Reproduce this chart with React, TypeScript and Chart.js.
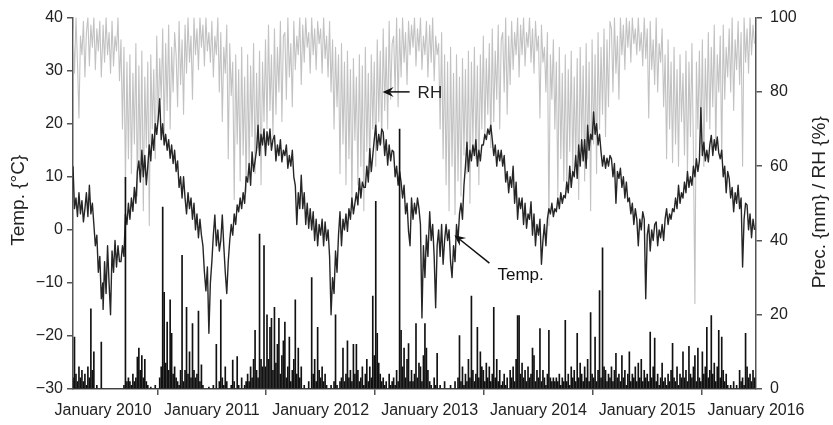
import React, { useEffect, useRef } from 'react';
import { Chart, registerables } from 'chart.js';

Chart.register(...registerables);

// ---------- data (5-day sampling; first segment starts 22 Sep 2009, others on 1 Jan) ----------
const STEP_DAYS = 5;
const segmentStarts = ['2009-09-22', '2010-01-01', '2011-01-01', '2012-01-01', '2013-01-01', '2014-01-01', '2015-01-01'];
const axisEnd = '2016-01-01';

const xTickDates = ['2010-01-01', '2011-01-01', '2012-01-01', '2013-01-01', '2014-01-01', '2015-01-01', '2016-01-01'];
const xTickLabels = ['January 2010', 'January 2011', 'January 2012', 'January 2013', 'January 2014', 'January 2015', 'January 2016'];

// Temperature (°C)
const temp2009 = [12, 4, 6, 2.5, 7, 3, 5.5, 1.5, 4, 7, 2.5, 8.4, 3, 5, 1, -3, -1, -8, -5, -13, -10];
const temp2010 = [
  -15, -6, -12, -3, -10, -16, -4, -8, -2, -7, -3, -6, -6, -3, -5, 3, 1, 5,
  2, 6, 3.5, 8, 5, 11, 13, 9, 15, 10, 14, 8.5, 12, 16, 13, 18, 15, 20,
  18, 21, 24.7, 17, 20, 16, 18, 15, 17, 13.5, 16, 12.5, 15, 11, 13, 8, 10, 6, 10,
  6, 3, 7, 4, 6, 2, 5, 0, 3, -1.5, 2, -1, -3, -8, -11.5, -7, -19.5, -10];
const temp2011 = [
  -6, -1, 2.8, -3, 0, -4, -2, 2.8, -3, -8, -12, -6, -2, 1, -1, 3, 1, 4.7,
  3.4, 6, 4, 7, 5, 10, 9, 12.5, 8.4, 14.7, 11, 13, 15, 19.7, 14, 18, 16, 19,
  14, 18.5, 16, 19, 15, 17, 17.8, 13, 16, 14, 17, 12.8, 15, 14, 16, 11.6, 14, 12, 15,
  10, 8.4, 1, 7, 4, 10.3, 4, 7, 1, 5, 0.3, 4, 0, 3.4, -2, 2, -3, 1];
const temp2012 = [
  -1, 2, -3, 1.5, -2, 0, -5, -16, -9, -12, -4, -8, -1, 3.4, -3, 2, 0, 3,
  -0.3, 4, 2, 6, 3, 5, 7, 4.7, 9.7, 6, 9, 8, 8, 12, 9, 15.3, 11, 14,
  17, 19.7, 15, 18, 16, 19, 18.4, 14, 17, 12.2, 16, 13, 15, 14.7, 10, 12, 8.4, 11, 9,
  6, 8.4, 3, 5, -0.3, -3, 6, 2, 5, 3, 6, 4, 1, -16.6, -3, -9, -1, -5];
const temp2013 = [
  3.4, -2, 1, -5, -14.7, -3, 0, -5, 1, -6.5, -2, 1, -2, 0, -6, -9, -3, -6,
  1, -2, 3, 5, 2, 8.4, 12, 16.5, 11, 15, 13, 16, 14, 17, 12, 15, 13, 16,
  16, 18, 17, 19, 18, 19.7, 17, 14, 16, 12, 15, 13, 15, 12, 14, 9, 11, 7, 10,
  8, 12, 5, 9, 2, 6, 4, 6, 1, 5, 0.3, 3, 2, 5.3, -1, 3, -3, 1];
const temp2014 = [
  -1, 2, -6.5, -2, 1, -3, 2, 4, 3, 5, 2.5, 4, 3.4, 6, 4, 7, 5, 6.5,
  6, 9, 7, 12, 8, 11, 10, 14, 9.7, 16, 12, 17, 13, 17, 11.6, 19.7, 15, 18,
  17, 22.2, 18, 20, 16, 18, 14.7, 12, 14, 11.6, 13.5, 12, 14, 13.4, 10, 12.5, 5, 11, 9.7,
  11.6, 8, 10, 6, 9, 5.3, 6, 3, 5, 1, 4, 2, -3, 2, 0, 3.4, 2, -13];
const temp2015 = [
  -1, 1, -4, 0, -2, 1, 1.5, -3, 0, -1.5, 1, -2, 2, 4, 1, 3, 2, 4,
  3.4, 6, 4, 8.4, 5, 7, 6, 9, 7, 11, 8, 10, 8.4, 12, 10, 13.4, 11, 13,
  23, 14, 16.5, 13, 15, 12.8, 16, 17.8, 14, 17, 15, 17.5, 14.5, 13.4, 15, 10, 12, 7, 11,
  9.7, 6, 8, 3.4, 7, 5, 8.4, 4, 6, -7, 2, 5, 4.7, 0, 3, -1.5, 2, 0];

// Relative humidity (%)
const rh2009 = [97, 85, 100, 88, 73, 95, 90, 99, 84, 96, 100, 87, 98, 92, 100, 86, 97, 91, 99, 84, 95];
const rh2010 = [
  98, 88, 100, 90, 96, 85, 99, 87, 95, 91, 100, 83, 94, 70, 92, 55, 88, 62,
  90, 58, 85, 66, 93, 52, 87, 60, 91, 48, 84, 65, 88, 44, 90, 70, 86, 62,
  95, 72, 89, 78, 97, 68, 93, 75, 98, 70, 92, 80, 96, 90, 76, 99, 82, 94, 74,
  98, 85, 100, 88, 95, 78, 100, 90, 97, 86, 100, 92, 98, 87, 100, 91, 96, 88];
const rh2011 = [
  99, 84, 95, 90, 100, 80, 96, 72, 92, 85, 98, 62, 93, 79, 88, 51, 90, 66,
  86, 56, 92, 63, 84, 53, 90, 60, 87, 68, 93, 58, 85, 65, 91, 55, 88, 72,
  94, 70, 98, 75, 90, 68, 97, 74, 92, 80, 99, 72, 95, 96, 78, 100, 84, 93, 76,
  99, 86, 95, 90, 100, 82, 98, 88, 100, 92, 96, 85, 100, 90, 97, 86, 99, 93];
const rh2012 = [
  97, 85, 100, 89, 95, 84, 99, 80, 94, 70, 92, 76, 90, 58, 93, 66, 88, 55,
  91, 62, 86, 50, 89, 67, 84, 55, 90, 60, 87, 48, 92, 64, 85, 58, 90, 70,
  88, 60, 94, 72, 91, 66, 97, 75, 92, 70, 99, 78, 93, 95, 80, 100, 76, 97, 84,
  100, 88, 96, 82, 99, 90, 98, 92, 100, 87, 97, 91, 100, 86, 95, 90, 99, 84];
const rh2013 = [
  98, 88, 100, 83, 95, 90, 93, 70, 96, 62, 90, 55, 88, 48, 92, 60, 85, 47,
  90, 56, 84, 52, 89, 63, 86, 58, 91, 50, 88, 66, 92, 62, 87, 55, 90, 70,
  95, 68, 89, 74, 93, 65, 97, 72, 91, 78, 98, 70, 94, 96, 80, 100, 74, 95, 82,
  99, 86, 96, 90, 100, 84, 98, 90, 100, 87, 96, 92, 100, 88, 97, 85, 99, 91];
const rh2014 = [
  95, 73, 98, 88, 92, 80, 96, 44, 90, 78, 94, 70, 88, 52, 92, 62, 85, 56,
  90, 53, 86, 64, 91, 58, 84, 60, 89, 51, 92, 66, 87, 56, 93, 62, 88, 48,
  94, 66, 90, 58, 96, 70, 92, 74, 97, 68, 94, 76, 99, 97, 80, 100, 85, 95, 78,
  100, 90, 98, 86, 100, 92, 99, 88, 100, 93, 97, 90, 100, 91, 96, 87, 100, 89];
const rh2015 = [
  97, 73, 99, 86, 94, 82, 100, 80, 93, 88, 97, 76, 90, 62, 94, 70, 88, 61,
  92, 66, 86, 60, 90, 72, 85, 63, 91, 58, 88, 68, 93, 64, 23, 88, 70, 91,
  66, 94, 60, 89, 72, 96, 70, 92, 76, 98, 65, 90, 80, 95, 62, 98, 78, 92, 84,
  97, 80, 100, 75, 94, 86, 99, 82, 96, 60, 100, 88, 97, 85, 100, 90, 98, 93];

// Precipitation (mm)
const prec2009 = [3, 14, 4, 2, 6, 3, 5, 2, 4, 1, 6, 3, 21.6, 5, 10, 0, 1, 0, 0, 12.6, 0];
const prec2010 = [
  0, 0, 0, 0, 0, 0, 0, 0, 0, 0, 0, 0, 0, 0, 1, 57, 2, 3,
  2, 1, 4, 2, 3, 8.6, 11, 5, 9, 3, 8, 2, 1, 0, 0.5, 0, 0, 1,
  0, 0, 3, 6, 49, 26, 7, 18, 5, 24, 15, 4, 6, 3, 2, 1, 5, 36, 2,
  5, 22, 4, 10, 3, 17.6, 5, 3, 4, 21, 2, 6.5, 1, 0, 0, 0, 0.5, 0];
const prec2011 = [
  0, 1, 0, 12, 0, 2, 24, 3, 1, 6, 2, 0, 0, 1, 7.8, 2, 0, 8.7,
  1, 0, 3, 0, 1, 2, 4, 2, 6, 3, 8, 15.8, 5, 3, 41.7, 8, 6, 38.6,
  6, 20, 8, 16.6, 19, 5, 22, 7, 12, 19, 4, 9, 13, 18, 3, 6, 14, 2, 5,
  8, 24, 4, 11, 3, 6, 0, 1, 0, 0, 2, 0, 30, 4, 8, 2, 16.6, 5];
const prec2012 = [
  3, 6, 2, 4, 1, 0, 0, 1, 0, 2, 20, 1, 0, 2, 3, 11, 2, 4,
  13, 3, 5, 2, 12, 4, 12, 5, 2, 3, 6, 1, 4, 8, 2, 6, 3, 25,
  9, 50.5, 15, 7, 4, 2, 3, 1, 2, 0, 4, 1, 2, 3, 1, 5, 2, 70, 15.8,
  6, 11, 3, 8, 12.2, 2, 5, 2, 4, 17.6, 3, 7, 6, 2, 9, 17.6, 11, 5];
const prec2013 = [
  2, 1, 0, 3, 1, 9.6, 0, 1, 0, 0, 2, 0, 0, 0, 1, 0, 0, 2,
  0, 3, 14.4, 2, 6, 1, 4, 2, 8, 3, 25, 5, 2, 4, 16.6, 3, 10, 6,
  5, 2, 7, 3, 6, 2, 4, 22, 3, 8, 2, 5, 1, 2, 4, 1, 3, 0, 5,
  3, 6, 2, 8, 19.8, 19.8, 4, 7, 3, 5, 2, 6, 3, 4, 11, 9, 2, 5];
const prec2014 = [
  3, 16.3, 2, 5, 3, 1, 4, 15.8, 3, 2, 3, 2, 3, 2, 4, 1, 3, 2,
  18.5, 2, 4, 1, 6, 3, 5, 2, 15, 3, 7, 4, 2, 6, 3, 8, 2, 20.6,
  4, 3, 14, 2, 5, 26.5, 3, 38, 6, 5, 2, 4, 3, 6, 2, 5, 9.6, 3, 4,
  2, 9, 3, 5, 1, 4, 10, 2, 4, 3, 6, 2, 7, 3, 8, 2, 5, 3];
const prec2015 = [
  4, 2, 15.3, 3, 6, 13.7, 2, 4, 1, 3, 7, 2, 3, 1, 4, 2, 5, 12.3,
  3, 2, 6, 1, 4, 3, 10, 3, 5, 2, 11.5, 4, 3, 6, 9, 2, 11, 3,
  2, 10, 4, 6, 16.6, 3, 5, 19.8, 4, 7, 2, 6, 15.8, 3, 14, 5, 2, 4, 1,
  0, 1, 0, 2, 0, 1, 0, 5, 2, 3, 1, 15, 6, 3, 4, 2, 5, 3];

const tempSegments = [temp2009, temp2010, temp2011, temp2012, temp2013, temp2014, temp2015];
const rhSegments = [rh2009, rh2010, rh2011, rh2012, rh2013, rh2014, rh2015];
const precSegments = [prec2009, prec2010, prec2011, prec2012, prec2013, prec2014, prec2015];

// ---------- helpers ----------
const ORIGIN = Date.parse(segmentStarts[0] + 'T00:00:00Z');
const dayOf = (iso: string) => Math.round((Date.parse(iso + 'T00:00:00Z') - ORIGIN) / 86400000);

const buildPoints = (segs: number[][]) =>
  segs.flatMap((arr, s) => {
    const start = dayOf(segmentStarts[s]);
    return arr.map((v, i) => ({ x: start + i * STEP_DAYS, y: v }));
  });

const FONT = '"Liberation Sans", Arial, Helvetica, sans-serif';
const TEXT = '#222';
const AXIS = '#555';

function drawArrow(ctx: CanvasRenderingContext2D, tx: number, ty: number, fx: number, fy: number) {
  const dx = tx - fx, dy = ty - fy;
  const len = Math.hypot(dx, dy);
  const ux = dx / len, uy = dy / len;
  const nx = -uy, ny = ux;
  const L = 11, W = 5, N = 4;
  ctx.beginPath();
  ctx.moveTo(fx, fy);
  ctx.lineTo(tx - ux * (L - N), ty - uy * (L - N));
  ctx.lineWidth = 1.5;
  ctx.strokeStyle = '#111';
  ctx.stroke();
  ctx.beginPath();
  ctx.moveTo(tx, ty);
  ctx.lineTo(tx - ux * L + nx * W, ty - uy * L + ny * W);
  ctx.lineTo(tx - ux * (L - N), ty - uy * (L - N));
  ctx.lineTo(tx - ux * L - nx * W, ty - uy * L - ny * W);
  ctx.closePath();
  ctx.fillStyle = '#111';
  ctx.fill();
}

const annotationPlugin = {
  id: 'annotations',
  afterDraw(chart: any) {
    const { ctx, chartArea, scales } = chart;
    const xs = scales.x, yl = scales.yL, yr = scales.yR;
    ctx.save();
    // axis titles (both read bottom-to-top)
    ctx.fillStyle = TEXT;
    ctx.font = `19px ${FONT}`;
    ctx.textAlign = 'center';
    ctx.textBaseline = 'middle';
    const cy = (chartArea.top + chartArea.bottom) / 2;
    ctx.save();
    ctx.translate(19, cy - 3);
    ctx.rotate(-Math.PI / 2);
    ctx.fillText('Temp. {°C}', 0, 0);
    ctx.restore();
    ctx.save();
    ctx.translate(820, cy - 1);
    ctx.rotate(-Math.PI / 2);
    ctx.fillText('Prec. {mm} / RH {%}', 0, 0);
    ctx.restore();

    // RH label
    const rhX = xs.getPixelForValue(dayOf('2012-07-27'));
    const rhY = yr.getPixelForValue(80);
    drawArrow(ctx, rhX, rhY, rhX + 27, rhY);
    ctx.font = `17px ${FONT}`;
    ctx.textAlign = 'left';
    ctx.fillStyle = TEXT;
    ctx.fillText('RH', rhX + 35, rhY + 1);

    // Temp label
    const tX = xs.getPixelForValue(dayOf('2013-03-25'));
    const tY = yl.getPixelForValue(-1);
    drawArrow(ctx, tX, tY, tX + 35, tY + 28);
    ctx.fillText('Temp.', tX + 43, tY + 40);
    ctx.restore();
  },
};

export default function App() {
  const ref = useRef<HTMLCanvasElement | null>(null);

  useEffect(() => {
    if (!ref.current) return;
    const tickDays = xTickDates.map(dayOf);
    const endDay = dayOf(axisEnd);
    const tickFont = { family: FONT, size: 16 };

    const chart = new Chart(ref.current, {
      type: 'line',
      data: {
        datasets: [
          {
            type: 'bar',
            label: 'Prec.',
            data: buildPoints(precSegments),
            yAxisID: 'yR',
            backgroundColor: '#111',
            barThickness: 1,
            grouped: false,
            order: 1,
          } as any,
          {
            type: 'line',
            label: 'Temp.',
            data: buildPoints(tempSegments),
            yAxisID: 'yL',
            borderColor: '#262626',
            borderWidth: 1.4,
            pointRadius: 0,
            tension: 0,
            borderJoinStyle: 'round',
            order: 2,
          },
          {
            type: 'line',
            label: 'RH',
            data: buildPoints(rhSegments),
            yAxisID: 'yR',
            borderColor: '#c2c2c2',
            borderWidth: 1.1,
            pointRadius: 0,
            tension: 0,
            borderJoinStyle: 'round',
            order: 3,
          },
        ],
      },
      options: {
        animation: false,
        responsive: false,
        maintainAspectRatio: false,
        layout: { padding: { top: 15, left: 0, right: 0, bottom: 0 } },
        plugins: { legend: { display: false }, tooltip: { enabled: false } },
        scales: {
          x: {
            type: 'linear',
            min: 0,
            max: endDay,
            offset: false,
            afterBuildTicks: (s: any) => {
              s.ticks = tickDays.map((v) => ({ value: v }));
            },
            afterFit: (s: any) => {
              s.height = 36;
            },
            grid: { drawOnChartArea: false, drawTicks: true, tickLength: 6, color: AXIS, lineWidth: 1.5 },
            border: { display: true, color: AXIS, width: 1.5 },
            ticks: {
              font: tickFont,
              color: TEXT,
              padding: 6,
              maxRotation: 0,
              autoSkip: false,
              callback: (v: any) => {
                const i = tickDays.indexOf(Number(v));
                return i >= 0 ? xTickLabels[i] : '';
              },
            },
          },
          yL: {
            type: 'linear',
            position: 'left',
            min: -30,
            max: 40,
            afterFit: (s: any) => {
              s.width = 73;
            },
            grid: { drawOnChartArea: false, drawTicks: true, tickLength: 6, color: AXIS, lineWidth: 1.5 },
            border: { display: true, color: AXIS, width: 1.5 },
            ticks: {
              stepSize: 10,
              font: tickFont,
              color: TEXT,
              padding: 4,
              callback: (v: any) => String(v).replace('-', '\u2212'),
            },
          },
          yR: {
            type: 'linear',
            position: 'right',
            min: 0,
            max: 100,
            afterFit: (s: any) => {
              s.width = 77;
            },
            grid: { drawOnChartArea: false, drawTicks: true, tickLength: 6, color: AXIS, lineWidth: 1.5 },
            border: { display: true, color: AXIS, width: 1.5 },
            ticks: {
              stepSize: 20,
              font: tickFont,
              color: TEXT,
              padding: 8,
            },
          },
        },
      } as any,
      plugins: [annotationPlugin],
    });
    return () => chart.destroy();
  }, []);

  return (
    <div style={{ position: 'fixed', left: 0, top: 0, width: 833, height: 425, background: '#fff' }}>
      <canvas ref={ref} width={833} height={425} style={{ width: 833, height: 425, display: 'block' }} />
    </div>
  );
}
